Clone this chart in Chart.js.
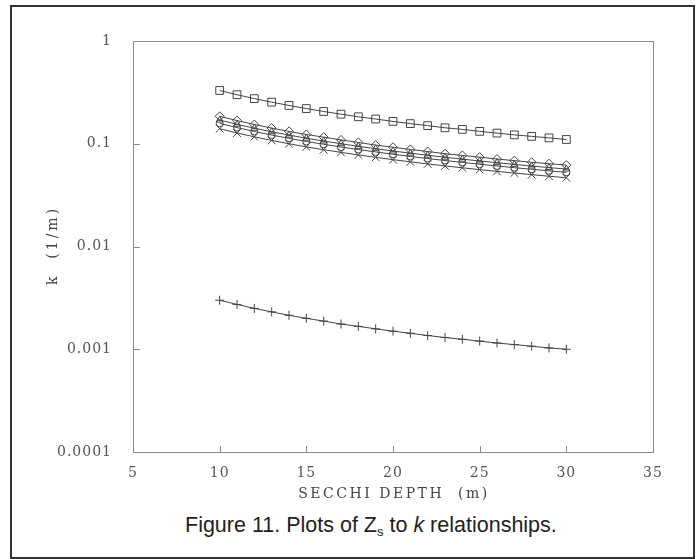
<!DOCTYPE html>
<html>

<head>
    <title>Plots of Zs to k relationships</title>
    <script src="https://cdn.jsdelivr.net/npm/chart.js"></script>
    <style>
        body {
            margin: 0;
            background: #fff;
        }

        .frame {
            position: absolute;
            left: 10px;
            top: 5px;
            width: 681px;
            height: 550px;
            border: 2px solid #333;
        }

        #chart {
            position: absolute;
            left: 0;
            top: 0;
        }

        .caption {
            position: absolute;
            left: 185px;
            top: 515px;
            font-family: "Liberation Sans", Arial, sans-serif;
            font-size: 21.5px;
            line-height: 21px;
            color: #222;
            white-space: nowrap;
        }

        .caption sub {
            font-size: 13px;
            vertical-align: -4px;
        }
    </style>
</head>

<body>
    <div class="frame"></div>
    <canvas id="chart" width="698" height="510"></canvas>
    <div class="caption">Figure 11. Plots of Z<sub>s</sub> to <i>k</i> relationships.</div>

    <script>
        // Secchi depth (m)
        const depths = [10, 11, 12, 13, 14, 15, 16, 17, 18, 19, 20, 21, 22, 23, 24, 25, 26, 27, 28, 29, 30];

        // k (1/m) for each relationship
        const kSquare = [0.330, 0.300, 0.275, 0.254, 0.236, 0.220, 0.206, 0.194, 0.183, 0.174, 0.165,
            0.157, 0.150, 0.143, 0.138, 0.132, 0.127, 0.122, 0.118, 0.114, 0.110];
        const kDiamond = [0.185, 0.168, 0.154, 0.142, 0.132, 0.123, 0.116, 0.109, 0.103, 0.097, 0.0925,
            0.088, 0.084, 0.080, 0.077, 0.074, 0.071, 0.0685, 0.066, 0.064, 0.062];
        const kTriangle = [0.170, 0.1545, 0.1417, 0.1308, 0.1214, 0.1133, 0.1063, 0.100, 0.0944, 0.0895, 0.085,
            0.081, 0.0773, 0.0739, 0.0708, 0.068, 0.0654, 0.063, 0.0607, 0.0586, 0.0567];
        const kCircle = [0.158, 0.1436, 0.1317, 0.1215, 0.1129, 0.1053, 0.0988, 0.0929, 0.0878, 0.0832, 0.079,
            0.0752, 0.0718, 0.0687, 0.0658, 0.0632, 0.0608, 0.0585, 0.0564, 0.0545, 0.0527];
        const kCross = [0.140, 0.1273, 0.1167, 0.1077, 0.100, 0.0933, 0.0875, 0.0824, 0.0778, 0.0737, 0.070,
            0.0667, 0.0636, 0.0609, 0.0583, 0.056, 0.0538, 0.0519, 0.050, 0.0483, 0.0467];
        const kPlus = [0.0030, 0.00273, 0.0025, 0.00231, 0.00214, 0.0020, 0.00188, 0.00176, 0.00167, 0.00158, 0.0015,
            0.00143, 0.00136, 0.0013, 0.00125, 0.0012, 0.00115, 0.00111, 0.00107, 0.00103, 0.0010];

        const xTicks = [5, 10, 15, 20, 25, 30, 35];
        const yTicks = [0.0001, 0.001, 0.01, 0.1, 1];
        const xTitle = 'SECCHI DEPTH  (m)';
        const yTitle = 'k  (1/m)';

        const ink = '#444';
        const axisGrey = '#8a8a8a';
        const serif = '"DejaVu Serif", "Liberation Serif", serif';

        function makeSeries(values, style, radius) {
            return {
                data: depths.map((d, i) => ({ x: d, y: values[i] })),
                borderColor: ink,
                borderWidth: 1,
                pointStyle: style,
                pointRadius: radius,
                pointBorderColor: ink,
                pointBackgroundColor: 'rgba(0,0,0,0)',
                pointBorderWidth: 1,
                tension: 0,
            };
        }

        // plotter-style look: spaced lettering, box round the plot, inward ticks, axis titles
        const plotterFrame = {
            id: 'plotterFrame',
            beforeDraw(chart) {
                chart.ctx.letterSpacing = '1px';
            },
            afterDraw(chart) {
                const { ctx, chartArea: a, scales } = chart;
                ctx.save();
                ctx.strokeStyle = axisGrey;
                ctx.lineWidth = 1;
                ctx.strokeRect(a.left + 0.5, a.top + 0.5, a.right - a.left, a.bottom - a.top);
                ctx.beginPath();
                xTicks.forEach((v) => {
                    const px = Math.round(scales.x.getPixelForValue(v)) + 0.5;
                    ctx.moveTo(px, a.bottom);
                    ctx.lineTo(px, a.bottom - 6);
                });
                yTicks.forEach((v) => {
                    const py = Math.round(scales.y.getPixelForValue(v)) + 0.5;
                    ctx.moveTo(a.left, py);
                    ctx.lineTo(a.left + 7, py);
                });
                ctx.stroke();

                ctx.fillStyle = '#444';
                ctx.font = '14px ' + serif;
                ctx.textAlign = 'center';
                ctx.textBaseline = 'middle';
                ctx.letterSpacing = '2.5px';
                ctx.fillText(xTitle, (a.left + a.right) / 2 + 1, a.bottom + 42);

                ctx.letterSpacing = '3px';
                ctx.translate(a.left - 80, (a.top + a.bottom) / 2);
                ctx.rotate(-Math.PI / 2);
                ctx.fillText(yTitle, 1, 0);
                ctx.restore();
            },
        };

        const tickFont = { family: serif, size: 14 };

        new Chart(document.getElementById('chart'), {
            type: 'line',
            data: {
                datasets: [
                    makeSeries(kSquare, 'rect', 5.5),
                    makeSeries(kDiamond, 'rectRot', 4.5),
                    makeSeries(kTriangle, 'triangle', 4),
                    makeSeries(kCircle, 'circle', 3.5),
                    makeSeries(kCross, 'crossRot', 5.5),
                    makeSeries(kPlus, 'cross', 4.5),
                ],
            },
            options: {
                responsive: false,
                animation: false,
                layout: { padding: { left: 40, top: 41, right: 45, bottom: 0 } },
                plugins: {
                    legend: { display: false },
                    tooltip: { enabled: false },
                },
                scales: {
                    x: {
                        type: 'linear',
                        min: 5,
                        max: 35,
                        afterBuildTicks: (scale) => { scale.ticks = xTicks.map((v) => ({ value: v })); },
                        afterFit: (scale) => { scale.height = 58; },
                        grid: { display: false },
                        border: { display: false },
                        ticks: { color: '#555', font: tickFont, padding: 5, maxRotation: 0 },
                    },
                    y: {
                        type: 'logarithmic',
                        min: 0.0001,
                        max: 1,
                        afterBuildTicks: (scale) => { scale.ticks = yTicks.map((v) => ({ value: v })); },
                        afterFit: (scale) => { scale.width = 93; },
                        grid: { display: false },
                        border: { display: false },
                        ticks: {
                            color: '#555',
                            font: tickFont,
                            padding: 13,
                            callback: (v) => String(v),
                        },
                    },
                },
            },
            plugins: [plotterFrame],
        });
    </script>
</body>

</html>
